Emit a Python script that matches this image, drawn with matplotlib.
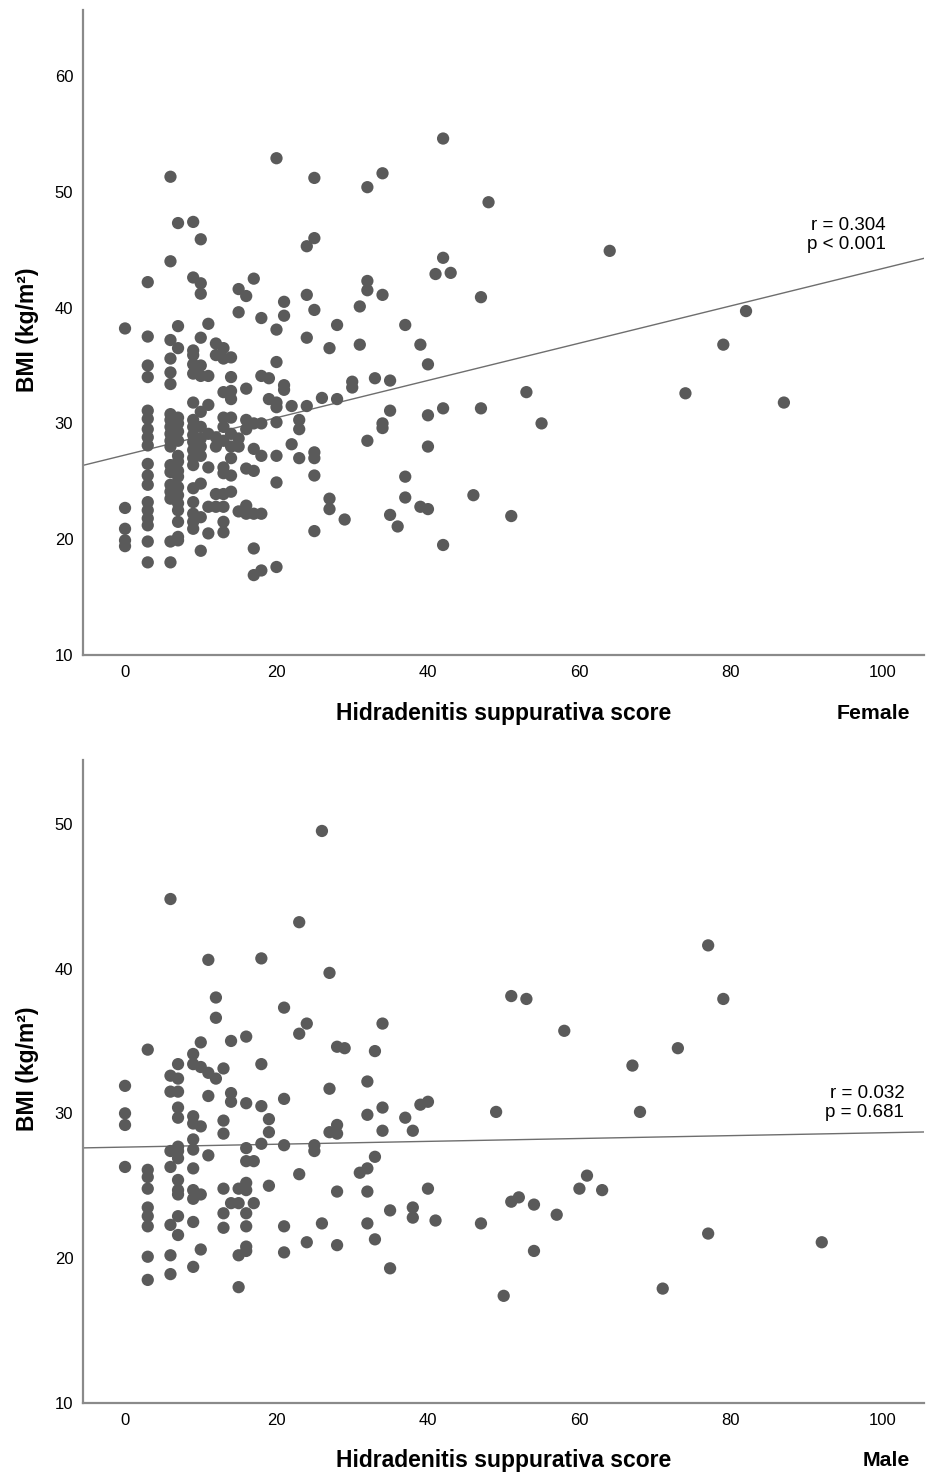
import numpy as np
import matplotlib
matplotlib.use("Agg")
import matplotlib.pyplot as plt

plt.rcParams['font.family'] = ['Liberation Sans', 'DejaVu Sans']

# (score, BMI) pairs
female_points = [
    (20, 52.9), (6, 51.3), (7, 47.3), (9, 47.4), (10, 45.9), (6, 44.0), (3, 42.2), (9, 42.6),
    (10, 42.1), (10, 41.2), (17, 42.5), (15, 41.6), (16, 41.0), (21, 40.5), (15, 39.6), (18, 39.1),
    (21, 39.3), (20, 38.1), (0, 38.2), (3, 37.5), (7, 38.4), (11, 38.6), (6, 37.2), (10, 37.4),
    (12, 36.9), (13, 36.5), (7, 36.5), (9, 36.3),
    (0, 22.7), (0, 20.9), (0, 19.9), (0, 19.4),
    (3, 35.0), (3, 34.0), (3, 31.1), (3, 30.4), (3, 29.5), (3, 28.8), (3, 28.1), (3, 26.5),
    (3, 25.5), (3, 24.7), (3, 23.2), (3, 22.5), (3, 21.8), (3, 21.2), (3, 19.8), (3, 18.0),
    (6, 35.6), (6, 34.4), (6, 33.4), (6, 30.8), (6, 30.3), (6, 29.7), (6, 29.1), (6, 28.5),
    (6, 28.0), (6, 26.4), (6, 25.8), (6, 24.7), (6, 24.1), (6, 23.5), (6, 19.8), (6, 18.0),
    (7, 30.5), (7, 30.0), (7, 29.3), (7, 28.5), (7, 27.2), (7, 26.7), (7, 25.9), (7, 25.4),
    (7, 24.5), (7, 23.8), (7, 23.1), (7, 22.5), (7, 21.5), (7, 20.2), (7, 19.9),
    (9, 35.9), (9, 35.1), (9, 34.3), (9, 31.8), (9, 30.3), (9, 29.7), (9, 29.0), (9, 28.4),
    (9, 27.7), (9, 27.0), (9, 26.4), (9, 24.4), (9, 23.2), (9, 22.2), (9, 21.5), (9, 20.9),
    (10, 35.0), (10, 34.1), (10, 31.0), (10, 29.7), (10, 28.7), (10, 28.0), (10, 27.2),
    (10, 24.8), (10, 21.9), (10, 19.0),
    (11, 34.1), (11, 31.6), (11, 29.1), (11, 26.2), (11, 22.8), (11, 20.5),
    (12, 35.9), (12, 28.8), (12, 28.0), (12, 23.9), (12, 22.8),
    (13, 35.6), (13, 32.7), (13, 30.5), (13, 29.7), (13, 28.5), (13, 26.2), (13, 25.7),
    (13, 23.9), (13, 22.8), (13, 21.5), (13, 20.6),
    (14, 35.7), (14, 34.0), (14, 32.8), (14, 32.1), (14, 30.5), (14, 29.1), (14, 28.0),
    (14, 27.0), (14, 25.5), (14, 24.1),
    (15, 28.7), (15, 28.0), (15, 22.4),
    (16, 33.0), (16, 30.3), (16, 29.5), (16, 26.1), (16, 22.9), (16, 22.2),
    (17, 30.0), (17, 27.8), (17, 25.9), (17, 22.2), (17, 19.2), (17, 16.9),
    (18, 34.1), (18, 30.0), (18, 27.2), (18, 22.2), (18, 17.3),
    (19, 33.9), (19, 32.1),
    (20, 35.3), (20, 31.4), (20, 30.1), (20, 27.2), (20, 24.9), (20, 17.6),
    (25, 51.2), (32, 50.4), (34, 51.6), (42, 54.6), (25, 46.0), (24, 45.3), (42, 44.3),
    (41, 42.9), (43, 43.0), (32, 42.3), (32, 41.5), (34, 41.1), (47, 40.9), (24, 41.1),
    (25, 39.8), (31, 40.1), (28, 38.5), (24, 37.4), (37, 38.5), (27, 36.5), (31, 36.8),
    (39, 36.8),
    (40, 35.1), (21, 33.3), (21, 32.9), (20, 31.8), (22, 31.5), (24, 31.5), (26, 32.2),
    (28, 32.1), (30, 33.6), (30, 33.1), (33, 33.9), (35, 33.7), (23, 30.3), (23, 29.5),
    (35, 31.1), (34, 30.0), (34, 29.6), (32, 28.5), (40, 30.7), (42, 31.3), (47, 31.3),
    (40, 28.0), (22, 28.2), (23, 27.0), (25, 27.5), (25, 27.0), (25, 25.5), (37, 25.4),
    (37, 23.6), (27, 23.5), (27, 22.6), (29, 21.7), (35, 22.1), (36, 21.1), (39, 22.8),
    (40, 22.6), (46, 23.8), (25, 20.7), (42, 19.5),
    (48, 49.1), (64, 44.9), (82, 39.7), (79, 36.8), (53, 32.7), (55, 30.0), (74, 32.6),
    (87, 31.8), (51, 22.0),
]

male_points = [
    (6, 44.8), (11, 40.6), (18, 40.7), (12, 38.0), (12, 36.6), (21, 37.3), (3, 34.4), (10, 34.9),
    (14, 35.0), (16, 35.3), (9, 34.1), (7, 33.4), (9, 33.4), (10, 33.2), (11, 32.8), (12, 32.4),
    (13, 33.1), (18, 33.4), (0, 31.9), (6, 32.6), (7, 32.4), (6, 31.5), (7, 31.5), (11, 31.2),
    (14, 31.4), (14, 30.8), (16, 30.7), (18, 30.5), (7, 30.4),
    (0, 30.0), (0, 29.2), (7, 29.7), (9, 29.8), (9, 29.3), (10, 29.1), (13, 29.5), (13, 28.6),
    (19, 29.6), (19, 28.7), (18, 27.9), (7, 27.7), (6, 27.4), (7, 27.4), (7, 26.9), (9, 28.2),
    (9, 27.5), (11, 27.1), (16, 27.6), (16, 26.7), (17, 26.7), (0, 26.3), (3, 26.1), (3, 25.6),
    (3, 24.8), (6, 26.3), (9, 26.2), (7, 25.4), (7, 24.7), (7, 24.4), (9, 24.7), (9, 24.1),
    (10, 24.4), (13, 24.8), (15, 24.8), (16, 25.2), (16, 24.7), (19, 25.0), (14, 23.8),
    (15, 23.8), (17, 23.8), (3, 23.5), (3, 22.9), (3, 22.2), (7, 22.9), (6, 22.3), (7, 21.6),
    (9, 22.5), (13, 23.1), (13, 22.1), (16, 23.1), (16, 22.2), (21, 22.2), (21, 20.4),
    (3, 20.1), (3, 18.5), (6, 20.2), (6, 18.9), (9, 19.4), (10, 20.6), (15, 20.2), (16, 20.5),
    (16, 20.8), (15, 18.0),
    (26, 49.5), (23, 43.2), (27, 39.7), (24, 36.2), (23, 35.5), (34, 36.2), (28, 34.6),
    (29, 34.5), (33, 34.3), (27, 31.7), (32, 32.2), (21, 31.0), (34, 30.4), (39, 30.6),
    (40, 30.8),
    (32, 29.9), (37, 29.7), (27, 28.7), (28, 29.2), (28, 28.6), (34, 28.8), (38, 28.8),
    (21, 27.8), (25, 27.8), (25, 27.4), (33, 27.0), (31, 25.9), (32, 26.2), (23, 25.8),
    (28, 24.6), (32, 24.6), (40, 24.8), (35, 23.3), (38, 23.5), (38, 22.8), (41, 22.6),
    (26, 22.4), (32, 22.4), (24, 21.1), (28, 20.9), (33, 21.3), (35, 19.3),
    (77, 41.6), (51, 38.1), (53, 37.9), (79, 37.9), (58, 35.7), (73, 34.5), (67, 33.3),
    (49, 30.1), (68, 30.1), (61, 25.7), (60, 24.8), (63, 24.7), (51, 23.9), (52, 24.2),
    (54, 23.7), (57, 23.0), (47, 22.4), (77, 21.7), (92, 21.1), (54, 20.5), (71, 17.9),
    (50, 17.4),
]

# fit lines (intercept, slope) and stats as printed on the chart
female_fit = (27.27, 0.161)
male_fit = (27.67, 0.0099)
female_stats = ['r = 0.304', 'p < 0.001']
male_stats = ['r = 0.032', 'p = 0.681']

x_ticks = [0, 20, 40, 60, 80, 100]
female_y_ticks = [10, 20, 30, 40, 50, 60]
male_y_ticks = [10, 20, 30, 40, 50]

DOT = '#5a5a5a'
AXIS = '#8a8a8a'


def plot_panel(ax, points, fit, stats, y_ticks, y_top, label, stats_pos, ylabel_y):
    score, bmi = np.array(points).T
    ax.scatter(score, bmi, s=78, color=DOT, edgecolors='none', zorder=3)
    ax.axline((0, fit[0]), slope=fit[1], color='#6e6e6e', lw=1.0, zorder=2)

    ax.set_xlim(-5.55, 105.5)
    ax.set_ylim(10, y_top)
    ax.set_xticks(x_ticks)
    ax.set_yticks(y_ticks)
    ax.tick_params(length=0, pad=7, labelsize=12)

    for side in ['top', 'right']:
        ax.spines[side].set_visible(False)
    for side in ['left', 'bottom']:
        ax.spines[side].set_color(AXIS)
        ax.spines[side].set_linewidth(1.6)

    ax.set_xlabel('Hidradenitis suppurativa score', fontsize=16.5, fontweight='bold', va='center')
    ax.xaxis.set_label_coords(0.5, -0.09)
    ax.set_ylabel('BMI (kg/m²)', fontsize=16.5, fontweight='bold', va='center')
    ax.yaxis.set_label_coords(-0.066, ylabel_y)

    ax.text(0.983, -0.09, label, transform=ax.transAxes, fontsize=15.3, fontweight='bold',
            ha='right', va='center')

    sx, sy, dy = stats_pos
    ax.text(sx, sy, stats[0], ha='right', va='center', fontsize=13.5)
    ax.text(sx, sy - dy, stats[1], ha='right', va='center', fontsize=13.5)


fig = plt.figure(figsize=(9.28, 14.74), dpi=100)
ax_f = fig.add_axes([83 / 928, 1 - 655 / 1474, 841 / 928, 645 / 1474])
ax_m = fig.add_axes([83 / 928, 1 - 1403 / 1474, 841 / 928, 643 / 1474])

plot_panel(ax_f, female_points, female_fit, female_stats, female_y_ticks, 65.7, 'Female',
           (100.4, 47.1, 1.65), 0.505)
plot_panel(ax_m, male_points, male_fit, male_stats, male_y_ticks, 54.4, 'Male',
           (102.9, 31.4, 1.33), 0.52)

fig.savefig('out.png', dpi=100)
